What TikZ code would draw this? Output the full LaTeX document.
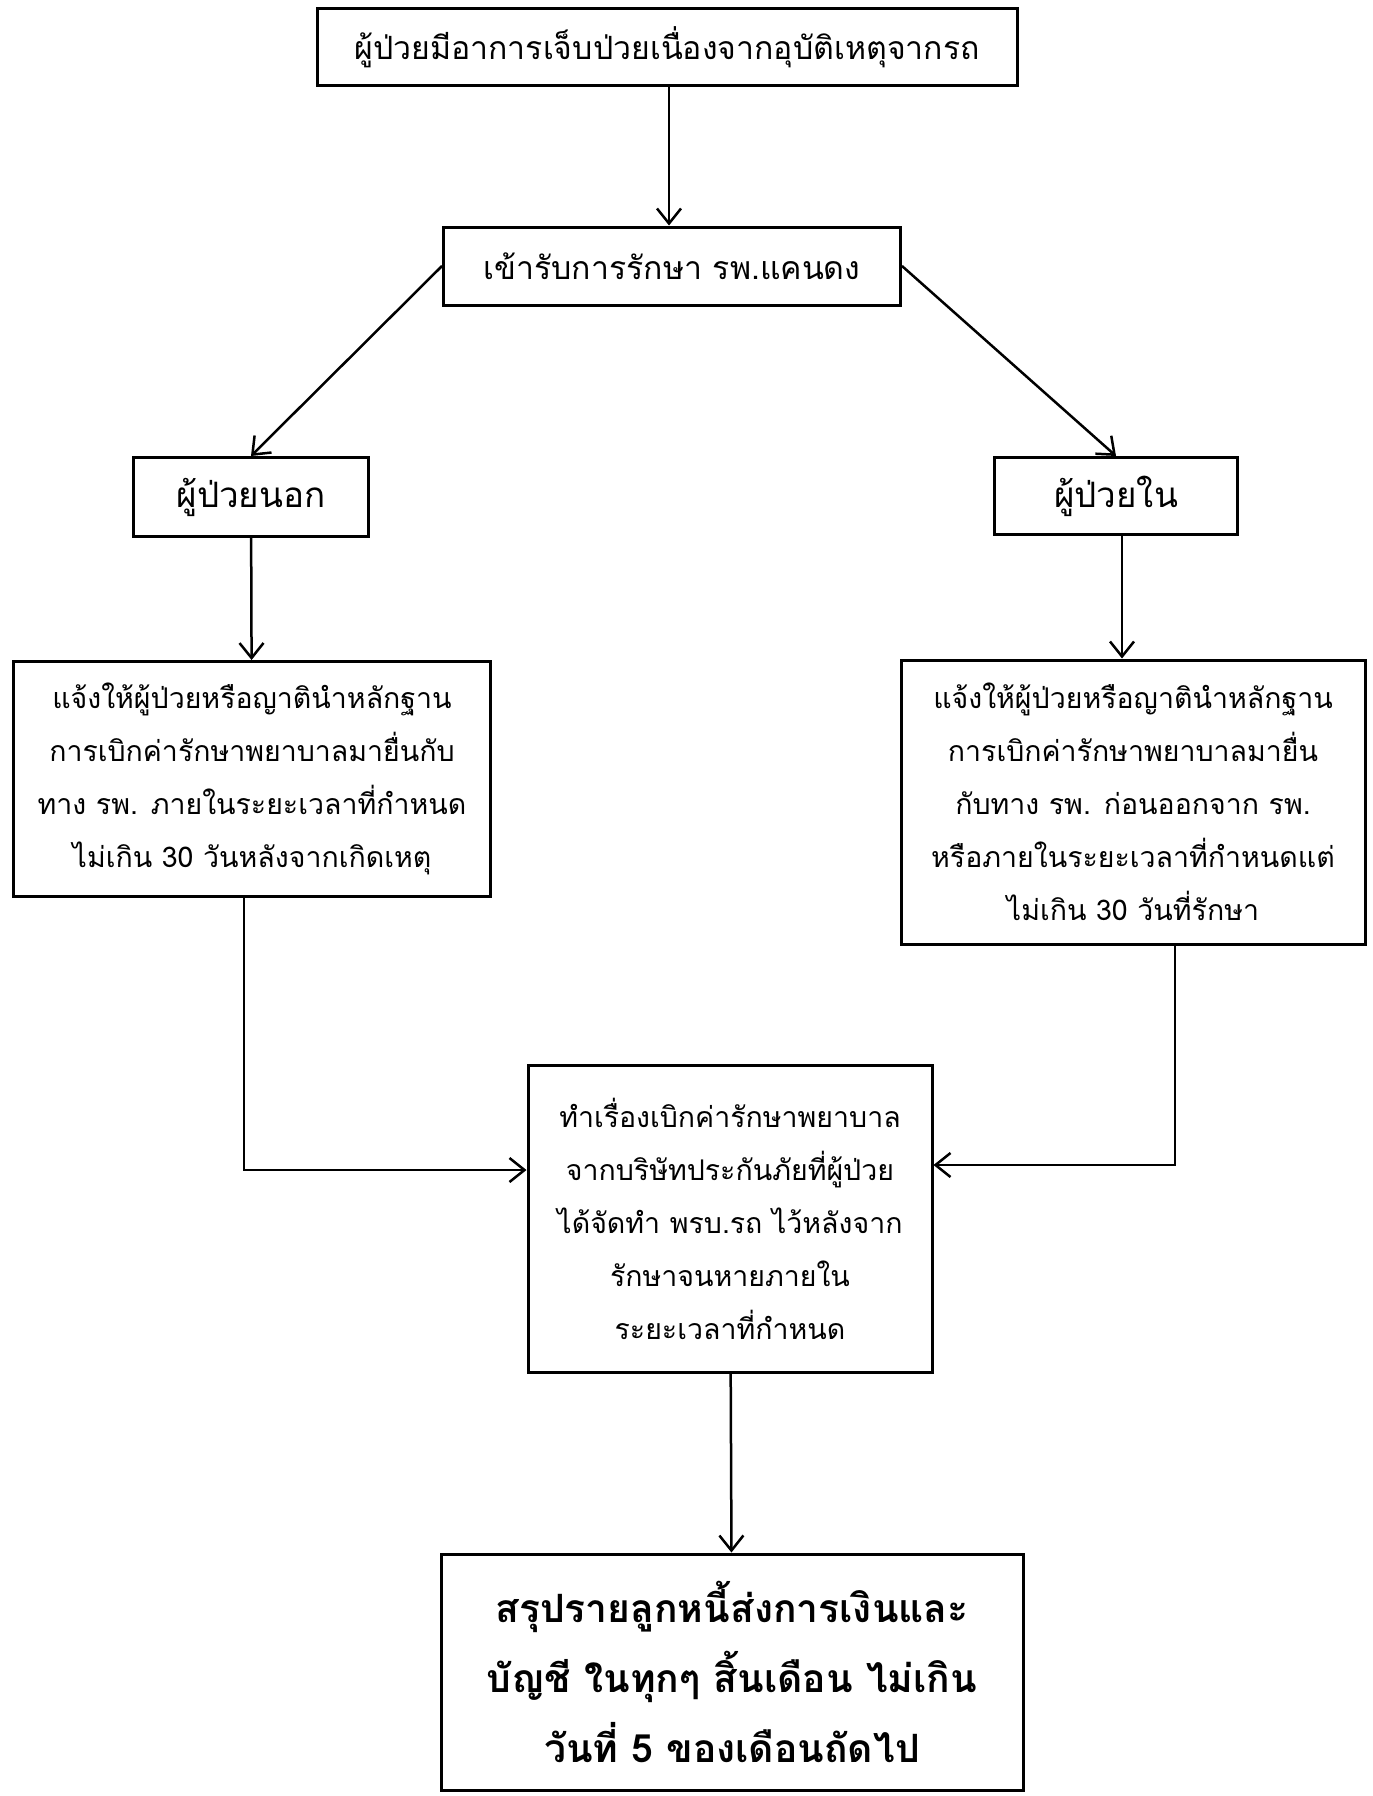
\documentclass[tikz,border=0pt]{standalone}
\usepackage{fontspec}
\setmainfont[Script=Thai]{Loma}
\usetikzlibrary{arrows.meta}
\begin{document}
\begin{tikzpicture}[x=1pt, y=-1pt,
  every node/.style={font=\fontsize{28.5}{53}\selectfont},
  box/.style={draw,line width=3pt,align=center,inner sep=4pt},
  arr/.style={line width=2.5pt,-{Straight Barb[length=15pt,width=24pt,line width=2.5pt]}}]
\useasboundingbox (0,0) rectangle (1373,1796);
\node[box,minimum width=700pt,minimum height=77pt,font=\fontsize{32}{40}\selectfont] (top) at (667,47) {ผู้ป่วยมีอาการเจ็บป่วยเนื่องจากอุบัติเหตุจากรถ};
\node[box,minimum width=457pt,minimum height=78pt,font=\fontsize{32}{40}\selectfont] (care) at (672,266) {เข้ารับการรักษา รพ.แคนดง};
\node[box,minimum width=235pt,minimum height=79pt,font=\fontsize{35}{40}\selectfont] (opd) at (251,497) {ผู้ป่วยนอก};
\node[box,minimum width=243pt,minimum height=77pt,font=\fontsize{35}{40}\selectfont] (ipd) at (1116,496) {ผู้ป่วยใน};
\node[box,minimum width=477pt,minimum height=235pt] (opdinfo) at (252,779) {แจ้งให้ผู้ป่วยหรือญาตินำหลักฐาน\\การเบิกค่ารักษาพยาบาลมายื่นกับ\\ทาง รพ. ภายในระยะเวลาที่กำหนด\\ไม่เกิน 30 วันหลังจากเกิดเหตุ};
\node[box,minimum width=464pt,minimum height=284pt] (ipdinfo) at (1133,802) {แจ้งให้ผู้ป่วยหรือญาตินำหลักฐาน\\การเบิกค่ารักษาพยาบาลมายื่น\\กับทาง รพ. ก่อนออกจาก รพ.\\หรือภายในระยะเวลาที่กำหนดแต่\\ไม่เกิน 30 วันที่รักษา};
\node[box,minimum width=404pt,minimum height=307pt] (claim) at (730,1219) {ทำเรื่องเบิกค่ารักษาพยาบาล\\จากบริษัทประกันภัยที่ผู้ป่วย\\ได้จัดทำ พรบ.รถ ไว้หลังจาก\\รักษาจนหายภายใน\\ระยะเวลาที่กำหนด};
\node[box,minimum width=582pt,minimum height=236pt,font=\fontsize{39}{70}\selectfont\bfseries] (summ) at (732,1672) {สรุปรายลูกหนี้ส่งการเงินและ\\บัญชี ในทุกๆ สิ้นเดือน ไม่เกิน\\วันที่ 5 ของเดือนถัดไป};
% connectors
\draw[arr] (top.south -| 669,0) -- (care.north -| 669,0);
\draw[arr] (care.west) -- (opd.north);
\draw[arr] (care.east) -- (ipd.north);
\draw[arr] (opd) -- (opdinfo);
\draw[arr] (ipd.south -| 1122,0) -- (ipdinfo.north -| 1122,0);
\draw[arr] (opdinfo.south -| 244,0) |- ([yshift=49pt]claim.west);
\draw[arr] (ipdinfo.south -| 1175,0) |- ([yshift=54pt]claim.east);
\draw[arr] (claim) -- (summ);
\end{tikzpicture}
\end{document}
